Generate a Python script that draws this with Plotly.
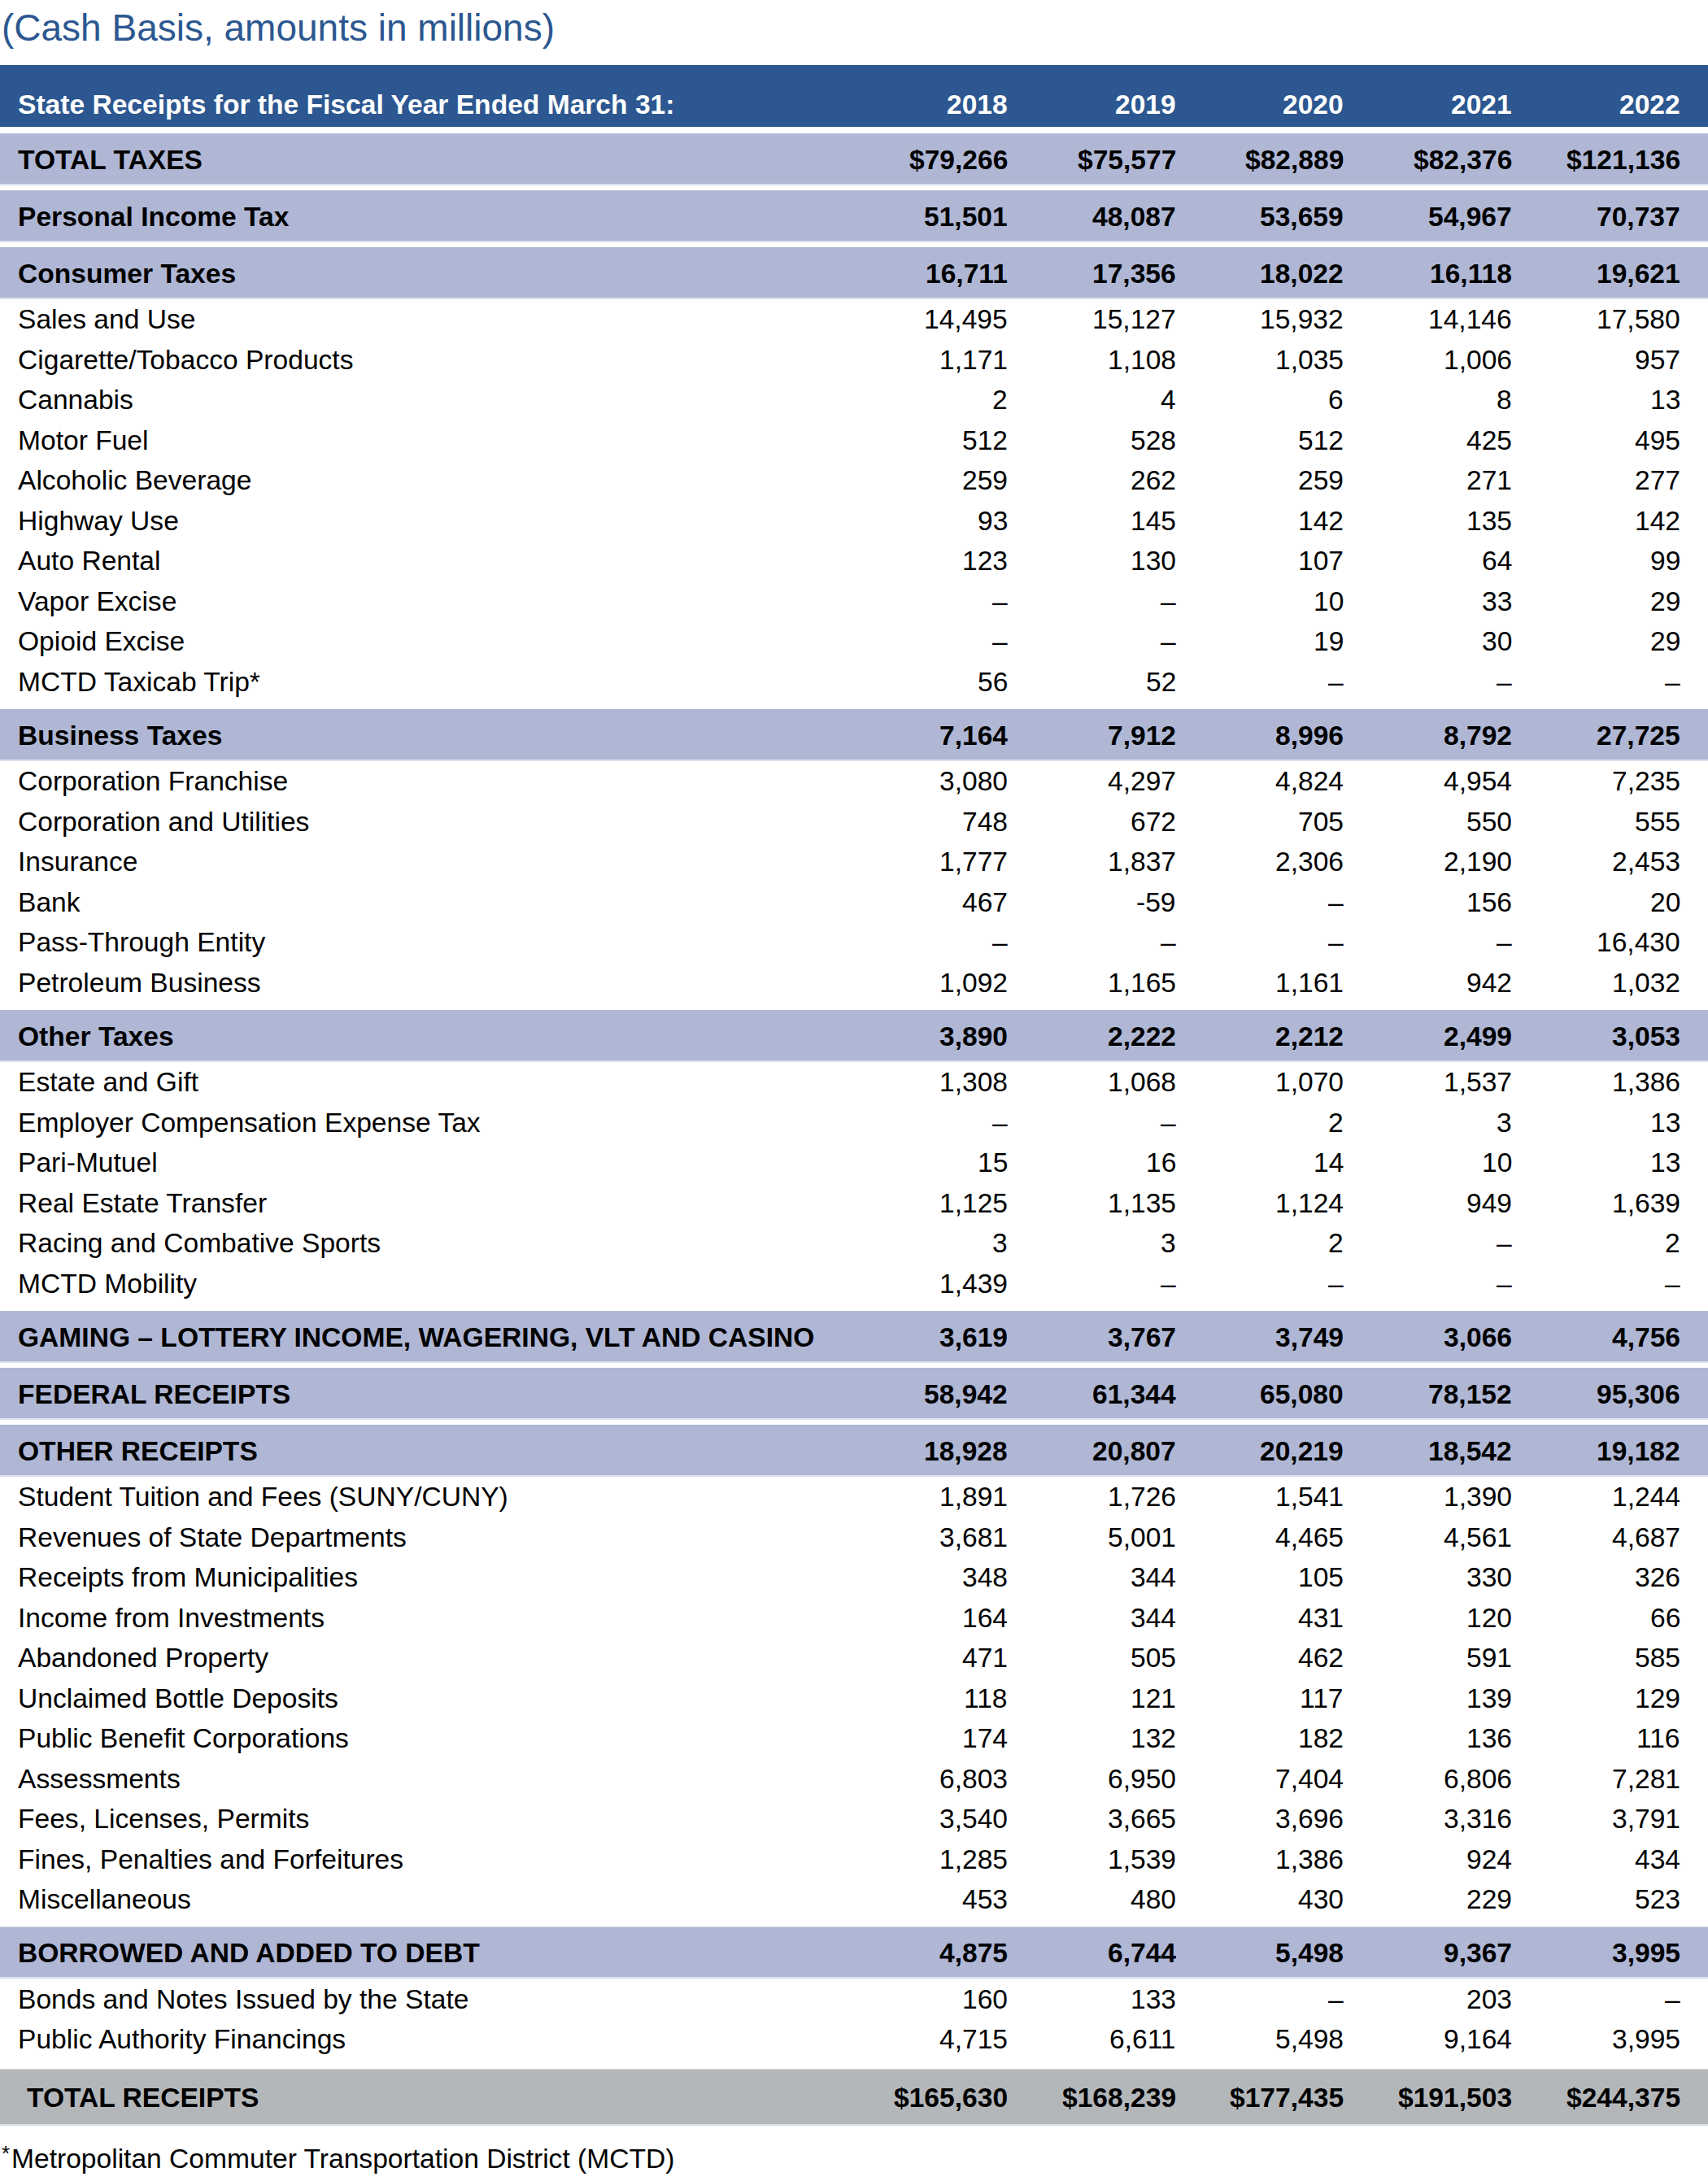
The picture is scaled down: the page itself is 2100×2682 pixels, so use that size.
import plotly.graph_objects as go

# State receipts table (cash basis, $ millions)
# ====================================================
years = ["2018", "2019", "2020", "2021", "2022"]

labels = [
    "TOTAL TAXES", "Personal Income Tax", "Consumer Taxes",
    "Sales and Use", "Cigarette/Tobacco Products", "Cannabis", "Motor Fuel",
    "Alcoholic Beverage", "Highway Use", "Auto Rental", "Vapor Excise",
    "Opioid Excise", "MCTD Taxicab Trip*",
    "Business Taxes", "Corporation Franchise", "Corporation and Utilities",
    "Insurance", "Bank", "Pass-Through Entity", "Petroleum Business",
    "Other Taxes", "Estate and Gift", "Employer Compensation Expense Tax",
    "Pari-Mutuel", "Real Estate Transfer", "Racing and Combative Sports",
    "MCTD Mobility",
    "GAMING \u2013 LOTTERY INCOME, WAGERING, VLT AND CASINO",
    "FEDERAL RECEIPTS", "OTHER RECEIPTS",
    "Student Tuition and Fees (SUNY/CUNY)", "Revenues of State Departments",
    "Receipts from Municipalities", "Income from Investments",
    "Abandoned Property", "Unclaimed Bottle Deposits",
    "Public Benefit Corporations", "Assessments", "Fees, Licenses, Permits",
    "Fines, Penalties and Forfeitures", "Miscellaneous",
    "BORROWED AND ADDED TO DEBT", "Bonds and Notes Issued by the State",
    "Public Authority Financings",
    "TOTAL RECEIPTS",
]

# None = shown as a dash
fy2018 = [79266, 51501, 16711, 14495, 1171, 2, 512, 259, 93, 123, None, None, 56,
          7164, 3080, 748, 1777, 467, None, 1092,
          3890, 1308, None, 15, 1125, 3, 1439,
          3619, 58942, 18928, 1891, 3681, 348, 164, 471, 118, 174, 6803, 3540, 1285, 453,
          4875, 160, 4715, 165630]
fy2019 = [75577, 48087, 17356, 15127, 1108, 4, 528, 262, 145, 130, None, None, 52,
          7912, 4297, 672, 1837, -59, None, 1165,
          2222, 1068, None, 16, 1135, 3, None,
          3767, 61344, 20807, 1726, 5001, 344, 344, 505, 121, 132, 6950, 3665, 1539, 480,
          6744, 133, 6611, 168239]
fy2020 = [82889, 53659, 18022, 15932, 1035, 6, 512, 259, 142, 107, 10, 19, None,
          8996, 4824, 705, 2306, None, None, 1161,
          2212, 1070, 2, 14, 1124, 2, None,
          3749, 65080, 20219, 1541, 4465, 105, 431, 462, 117, 182, 7404, 3696, 1386, 430,
          5498, None, 5498, 177435]
fy2021 = [82376, 54967, 16118, 14146, 1006, 8, 425, 271, 135, 64, 33, 30, None,
          8792, 4954, 550, 2190, 156, None, 942,
          2499, 1537, 3, 10, 949, None, None,
          3066, 78152, 18542, 1390, 4561, 330, 120, 591, 139, 136, 6806, 3316, 924, 229,
          9367, 203, 9164, 191503]
fy2022 = [121136, 70737, 19621, 17580, 957, 13, 495, 277, 142, 99, 29, 29, None,
          27725, 7235, 555, 2453, 20, 16430, 1032,
          3053, 1386, 13, 13, 1639, 2, None,
          4756, 95306, 19182, 1244, 4687, 326, 66, 585, 129, 116, 7281, 3791, 434, 523,
          3995, None, 3995, 244375]

band_rows = ["TOTAL TAXES", "Personal Income Tax", "Consumer Taxes", "Business Taxes",
             "Other Taxes", "GAMING \u2013 LOTTERY INCOME, WAGERING, VLT AND CASINO",
             "FEDERAL RECEIPTS", "OTHER RECEIPTS", "BORROWED AND ADDED TO DEBT"]
total_rows = ["TOTAL RECEIPTS"]
dollar_rows = ["TOTAL TAXES", "TOTAL RECEIPTS"]

columns = [fy2018, fy2019, fy2020, fy2021, fy2022]
for col in columns:
    assert len(col) == len(labels)

W, H = 2100, 2682
FONT = "Liberation Sans, Arial, Helvetica, sans-serif"
BLUE = "#2C5790"
LAVENDER = "#AFB7D5"
GRAY = "#B4B7BA"
FS = 33.6


def fmt(v, label):
    if v is None:
        return "\u2013"
    s = "{:,}".format(v)
    return "$" + s if label in dollar_rows else s


# vertical layout of the rows
HEADER_TOP, HEADER_H = 80, 76
BAND_H, ITEM_H, TOTAL_H = 62, 49.5, 68
rows = []
y = HEADER_TOP + HEADER_H
prev = "band"
for lab in labels:
    kind = "band" if lab in band_rows else ("total" if lab in total_rows else "item")
    if kind == "band":
        y += 10 if prev == "item" else 8
        h = BAND_H
    elif kind == "total":
        y += 13
        h = TOTAL_H
    else:
        if prev == "band":
            y += 1
        h = ITEM_H
    rows.append((lab, kind, y, y + h))
    y += h
    prev = kind

col_right = [1241 + i * 206.7 for i in range(len(years))]

shapes = []
annotations = []


def add_text(x, yc, text, anchor, bold=False, color="black", size=FS):
    annotations.append(dict(
        x=x, y=yc, xref="x", yref="y", text="<b>" + text + "</b>" if bold else text,
        showarrow=False, xanchor=anchor, yanchor="middle",
        font=dict(family=FONT, size=size, color=color)))


# title
add_text(0, 34, "(Cash Basis, amounts in millions)", "left", color=BLUE, size=46)

# header band
shapes.append(dict(type="rect", xref="x", yref="y", x0=0, x1=W,
                   y0=HEADER_TOP, y1=HEADER_TOP + HEADER_H,
                   fillcolor=BLUE, line_width=0, layer="below"))
hy = HEADER_TOP + 48
add_text(20, hy, "State Receipts for the Fiscal Year Ended March 31:", "left", True, "white")
for xr, yr in zip(col_right, years):
    add_text(xr, hy, yr, "right", True, "white")

for i, (lab, kind, y0, y1) in enumerate(rows):
    yc = (y0 + y1) / 2
    if kind != "item":
        shapes.append(dict(type="rect", xref="x", yref="y", x0=0, x1=W, y0=y0, y1=y1,
                           fillcolor=LAVENDER if kind == "band" else GRAY,
                           line_width=0, layer="below"))
        shapes.append(dict(type="line", xref="x", yref="y", x0=0, x1=W, y0=y1 + 1, y1=y1 + 1,
                           line=dict(color="#DDE1EE", width=2), layer="below"))
    bold = kind != "item"
    add_text(31 if kind == "total" else 20, yc + 1, lab, "left", bold)
    for xr, col in zip(col_right, columns):
        add_text(xr, yc + 1, fmt(col[i], lab), "right", bold)

# footnote
add_text(0, 2648, "*", "left", size=26)
add_text(12, 2654, "Metropolitan Commuter Transportation District (MCTD)", "left")

fig = go.Figure()
fig.add_trace(go.Scatter(x=[0, W], y=[0, H], mode="markers",
                         marker=dict(opacity=0), hoverinfo="skip", showlegend=False))
fig.update_layout(
    width=W, height=H, margin=dict(l=0, r=0, t=0, b=0),
    paper_bgcolor="white", plot_bgcolor="white",
    xaxis=dict(range=[0, W], visible=False, fixedrange=True),
    yaxis=dict(range=[H, 0], visible=False, fixedrange=True),
    shapes=shapes, annotations=annotations, showlegend=False,
)
fig.write_html("out.html", config={"displayModeBar": False},
               post_script="document.body.style.margin='0px';")
